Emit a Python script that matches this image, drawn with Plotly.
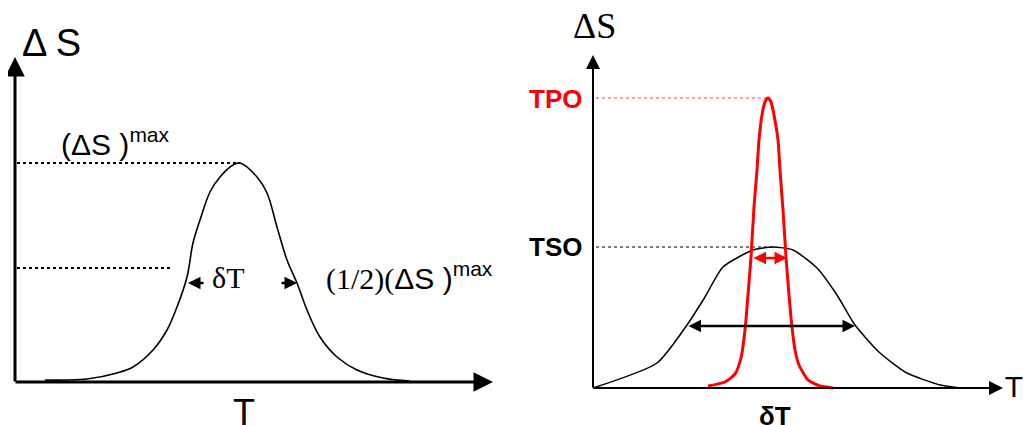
import plotly.graph_objects as go

# left sketch: broad transition, units measured from the axis origin
left_T = [30, 72, 102, 118, 138, 152, 162, 172, 178, 185, 195, 205, 218, 225,
          242, 252, 262, 272, 282, 292, 305, 322, 342, 368, 395]
left_S = [2, 3, 9, 15, 32, 52, 75, 105, 139, 162, 190, 205, 217, 219,
          205, 189, 155, 122, 99, 72, 45, 25, 12, 4, 1]
left_max = 219
left_half = 114
left_dT = [173, 282]   # ends of the delta T arrows
left_dT_level = 99

# right sketch: TSO (black, broad) and TPO (red, narrow)
tso_T = [0, 64, 94, 112, 130, 160, 180, 200, 224, 244, 262, 287, 314, 347, 367]
tso_S = [0, 25, 63, 91, 121, 138, 141, 138, 120, 93, 63, 35, 15, 3, 0]
tpo_T = [115, 132, 142, 148, 152, 155, 158, 161, 164, 166, 169, 172, 175,
         178, 181, 185, 187, 190, 193, 196, 199, 202, 206, 215, 227, 240]
tpo_S = [2, 6, 14, 30, 58, 93, 131, 181, 218, 248, 273, 286, 290,
         286, 273, 248, 218, 178, 131, 93, 61, 38, 23, 8, 2, 0]
tpo_max = 290
tso_max = 141
tso_width = [94, 262]
tso_width_level = 62
tpo_width = [159, 194]
tpo_width_level = 130

fig = go.Figure()

# left panel
fig.add_trace(go.Scatter(x=[2, left_T[13]], y=[left_max, left_max], mode="lines",
                         line=dict(color="black", width=2, dash="dot"), xaxis="x", yaxis="y"))
fig.add_trace(go.Scatter(x=[2, 158], y=[left_half, left_half], mode="lines",
                         line=dict(color="black", width=2, dash="dot"), xaxis="x", yaxis="y"))
fig.add_trace(go.Scatter(x=left_T, y=left_S, mode="lines", line_shape="spline",
                         line=dict(color="black", width=1.6), xaxis="x", yaxis="y"))

# right panel
fig.add_trace(go.Scatter(x=[3, 175], y=[tpo_max, tpo_max], mode="lines",
                         line=dict(color="#ff4040", width=1, dash="dot"), xaxis="x2", yaxis="y2"))
fig.add_trace(go.Scatter(x=[3, 180], y=[tso_max, tso_max], mode="lines",
                         line=dict(color="black", width=1, dash="dot"), xaxis="x2", yaxis="y2"))
fig.add_trace(go.Scatter(x=tso_T, y=tso_S, mode="lines", line_shape="spline",
                         line=dict(color="black", width=1.5, smoothing=0.6), xaxis="x2", yaxis="y2"))
fig.add_trace(go.Scatter(x=tpo_T, y=tpo_S, mode="lines", line_shape="spline",
                         line=dict(color="red", width=3, smoothing=0.6), xaxis="x2", yaxis="y2"))
# axis name at the right edge of the right sketch
fig.add_trace(go.Scatter(x=[421], y=[-1], mode="text", text=["T"], cliponaxis=False,
                         textposition="middle center",
                         textfont=dict(family="Liberation Sans", size=30, color="black"),
                         xaxis="x2", yaxis="y2"))


def arrow(x, y, ax, ay, ref, color="black", width=2.5, side="end", size=1.0):
    return dict(x=x, y=y, ax=ax, ay=ay, xref="x" + ref, yref="y" + ref,
                axref="x" + ref, ayref="y" + ref, text="", showarrow=True,
                arrowhead=2, arrowsize=size, arrowwidth=width, arrowcolor=color,
                arrowside=side)


def label(text, x, y, ref, size, family="Liberation Sans", color="black",
          xanchor="center"):
    return dict(x=x, y=y, xref="x" + ref, yref="y" + ref, text=text, showarrow=False,
                xanchor=xanchor, yanchor="middle",
                font=dict(family=family, size=size, color=color))


serif = "Liberation Serif"
annotations = [
    # left axes
    arrow(0, 325, 0, -1, "", width=3, size=1.3),
    arrow(478, 0, -1, 0, "", width=3, size=1.3),
    # right axes
    arrow(0, 333, 0, -1, "2", width=2, size=1.4),
    arrow(410, 0, -1, 0, "2", width=2, size=1.4),
    # delta T pointers on the left
    arrow(left_dT[0], left_dT_level, left_dT[0] + 17, left_dT_level, "", width=2.5),
    arrow(left_dT[1], left_dT_level, left_dT[1] - 17, left_dT_level, "", width=2.5),
    # widths on the right
    arrow(tso_width[1], tso_width_level, tso_width[0], tso_width_level, "2",
          width=2.5, side="end+start"),
    arrow(tpo_width[1], tpo_width_level, tpo_width[0], tpo_width_level, "2",
          color="red", width=2.5, side="end+start"),
    # left texts
    label("Δ S", 36, 339, "", 38),
    label("(ΔS )<sup>max</sup>", 44, 240, "", 30, xanchor="left"),
    label("δT", 213, 105, "", 30, family=serif),
    label("<span style='font-family:Liberation Serif'>(1/2)(</span>ΔS )<sup>max</sup>",
          309, 106, "", 30, xanchor="left"),
    label("T", 229, -30, "", 36),
    # right texts
    label("ΔS", 1, 362, "2", 36, family=serif),
    label("<b>TPO</b>", -38, 289, "2", 26, color="red"),
    label("<b>TSO</b>", -38, 141, "2", 26),
    label("<b>δT</b>", 182, -28, "2", 26),
]

# the page puts the figure 8 px in from the window corner, so it is sized to
# the remaining 1024 x 417
hidden = dict(visible=False, showgrid=False, zeroline=False, fixedrange=True)
fig.update_layout(
    width=1024, height=417,
    margin=dict(l=0, r=0, t=0, b=0),
    paper_bgcolor="white", plot_bgcolor="white",
    showlegend=False,
    xaxis=dict(domain=[0, 0.5], range=[-7, 505], **hidden),
    yaxis=dict(domain=[0, 1], range=[-43, 374], **hidden),
    xaxis2=dict(domain=[0.5, 1], range=[-73, 439], anchor="y2", **hidden),
    yaxis2=dict(domain=[0, 1], range=[-37, 380], anchor="x2", **hidden),
    annotations=annotations,
)

fig.write_html("out.html")
